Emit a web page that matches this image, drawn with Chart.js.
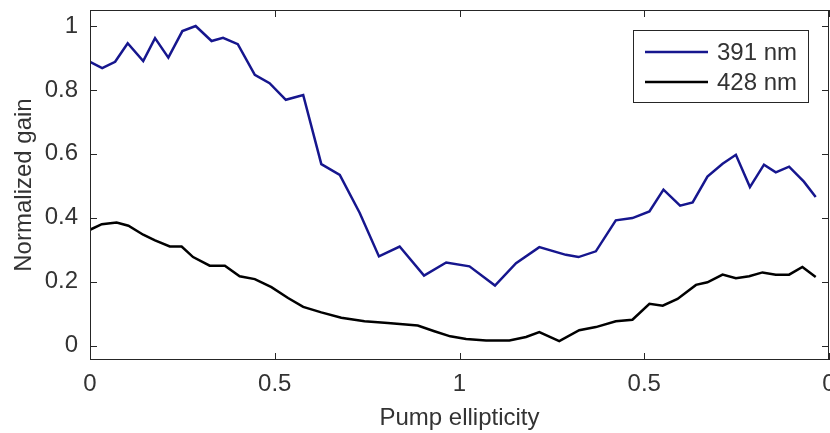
<!DOCTYPE html>
<html>
<head>
<meta charset="utf-8">
<script src="https://cdn.jsdelivr.net/npm/chart.js@4/dist/chart.umd.min.js"></script>
<style>
  html, body { margin: 0; padding: 0; background: #ffffff; }
  #wrap { width: 830px; height: 433px; }
</style>
</head>
<body>
<div id="wrap"><canvas id="c" width="830" height="433"></canvas></div>
<script>
// ---- data ----
const seriesLabels = ['391 nm', '428 nm'];
const seriesColors = ['#16168e', '#000000'];

const blueX = [0,0.033,0.068,0.102,0.144,0.176,0.212,0.25,0.286,0.329,
               0.36,0.40,0.446,0.486,0.53,0.577,0.626,0.676,0.73,0.782,
               0.838,0.904,0.964,1.027,1.096,1.153,1.216,1.288,1.322,1.369,
               1.423,1.468,1.514,1.552,1.597,1.631,1.671,1.712,1.748,1.786,
               1.824,1.856,1.892,1.932,1.964];
const blueY = [0.888,0.868,0.888,0.946,0.89,0.962,0.901,0.984,1.0,0.953,
               0.963,0.943,0.847,0.821,0.769,0.784,0.568,0.534,0.415,0.279,
               0.31,0.219,0.26,0.248,0.188,0.258,0.308,0.284,0.277,0.295,
               0.392,0.399,0.42,0.488,0.438,0.448,0.529,0.569,0.597,0.496,
               0.566,0.542,0.56,0.513,0.465];

const blackX = [0,0.032,0.072,0.104,0.144,0.176,0.216,0.248,0.279,0.324,
                0.365,0.405,0.446,0.491,0.536,0.577,0.626,0.68,0.743,0.806,
                0.887,0.932,0.975,1.018,1.072,1.135,1.18,1.216,1.27,1.324,
                1.369,1.423,1.468,1.514,1.55,1.59,1.64,1.671,1.712,1.748,
                1.784,1.82,1.856,1.892,1.928,1.964];
const blackY = [0.3625,0.38,0.385,0.375,0.347,0.329,0.31,0.31,0.277,0.25,
                0.25,0.217,0.208,0.183,0.149,0.121,0.104,0.087,0.076,0.071,
                0.063,0.045,0.029,0.021,0.016,0.016,0.027,0.042,0.014,0.048,
                0.058,0.076,0.081,0.131,0.125,0.146,0.19,0.198,0.222,0.211,
                0.217,0.229,0.222,0.222,0.246,0.215];

const xTickValues = [0, 0.5, 1, 1.5, 2];
const xTickLabels = ['0', '0.5', '1', '0.5', '0'];
const yTickValues = [0, 0.2, 0.4, 0.6, 0.8, 1];
const yTickLabels = ['0', '0.2', '0.4', '0.6', '0.8', '1'];

const xTitle = 'Pump ellipticity';
const yTitle = 'Normalized gain';

// ---- rendering ----
const TEXT = '#333333';
const AXIS = '#262626';
const FONT = 'Liberation Sans, Arial, sans-serif';

function pairs(xs, ys) { return xs.map((x, i) => ({ x: x, y: ys[i] })); }

const framePlugin = {
  id: 'frame',
  afterDatasetsDraw(chart) {
    const { ctx, chartArea: a, scales } = chart;
    ctx.save();
    ctx.strokeStyle = AXIS;
    ctx.lineWidth = 1;
    ctx.strokeRect(a.left + 0.5, a.top + 0.5, a.right - a.left - 1, a.bottom - a.top - 1);
    const L = 7;
    ctx.beginPath();
    scales.x.ticks.forEach(t => {
      const px = Math.round(scales.x.getPixelForValue(t.value)) + 0.5;
      ctx.moveTo(px, a.bottom); ctx.lineTo(px, a.bottom - L);
      ctx.moveTo(px, a.top); ctx.lineTo(px, a.top + L);
    });
    scales.y.ticks.forEach(t => {
      const py = Math.round(scales.y.getPixelForValue(t.value)) + 0.5;
      ctx.moveTo(a.left, py); ctx.lineTo(a.left + L, py);
      ctx.moveTo(a.right, py); ctx.lineTo(a.right - L, py);
    });
    ctx.stroke();

    // legend box
    const bx = 633, by = 30, bw = 175, bh = 72;
    ctx.fillStyle = '#ffffff';
    ctx.fillRect(bx, by, bw, bh);
    ctx.strokeStyle = AXIS;
    ctx.strokeRect(bx + 0.5, by + 0.5, bw, bh);
    ctx.font = '24px ' + FONT;
    ctx.textBaseline = 'middle';
    ctx.textAlign = 'left';
    chart.data.datasets.forEach((ds, i) => {
      const y = by + 22 + i * 30;
      ctx.strokeStyle = ds.borderColor;
      ctx.lineWidth = 2.5;
      ctx.beginPath();
      ctx.moveTo(bx + 12, y); ctx.lineTo(bx + 75, y);
      ctx.stroke();
      ctx.fillStyle = TEXT;
      ctx.fillText(ds.label, bx + 84, y + 1);
    });
    ctx.restore();
  }
};

new Chart(document.getElementById('c'), {
  type: 'line',
  data: {
    datasets: [
      { label: seriesLabels[0], data: pairs(blueX, blueY), borderColor: seriesColors[0],
        borderWidth: 2.5, pointRadius: 0, tension: 0, fill: false },
      { label: seriesLabels[1], data: pairs(blackX, blackY), borderColor: seriesColors[1],
        borderWidth: 2.5, pointRadius: 0, tension: 0, fill: false }
    ]
  },
  options: {
    responsive: false,
    animation: false,
    devicePixelRatio: 1,
    layout: { padding: { top: 10, right: 1, left: 0, bottom: 0 } },
    plugins: { legend: { display: false }, tooltip: { enabled: false } },
    scales: {
      x: {
        type: 'linear', min: 0, max: 2,
        afterBuildTicks: s => { s.ticks = xTickValues.map(v => ({ value: v })); },
        afterFit: s => { s.height = 73; s.paddingLeft = 0; s.paddingRight = 0; },
        grid: { display: false, drawTicks: false },
        border: { display: false },
        ticks: {
          color: TEXT, font: { family: FONT, size: 24 }, padding: 10, maxRotation: 0,
          callback: (v) => { const i = xTickValues.indexOf(v); return i >= 0 ? xTickLabels[i] : ''; }
        },
        title: { display: true, text: xTitle, color: TEXT, font: { family: FONT, size: 24 },
                 padding: { top: 0, bottom: 0 } }
      },
      y: {
        type: 'linear', min: -0.045, max: 1.05,
        afterBuildTicks: s => { s.ticks = yTickValues.map(v => ({ value: v })); },
        afterFit: s => { s.width = 90; s.paddingTop = 0; s.paddingBottom = 0; },
        grid: { display: false, drawTicks: false },
        border: { display: false },
        ticks: {
          color: TEXT, font: { family: FONT, size: 24 }, padding: 12,
          callback: (v) => { const i = yTickValues.indexOf(v); return i >= 0 ? yTickLabels[i] : ''; }
        },
        title: { display: true, text: yTitle, color: TEXT, font: { family: FONT, size: 24 },
                 padding: { top: 10, bottom: 0 } }
      }
    }
  },
  plugins: [framePlugin]
});
</script>
</body>
</html>
